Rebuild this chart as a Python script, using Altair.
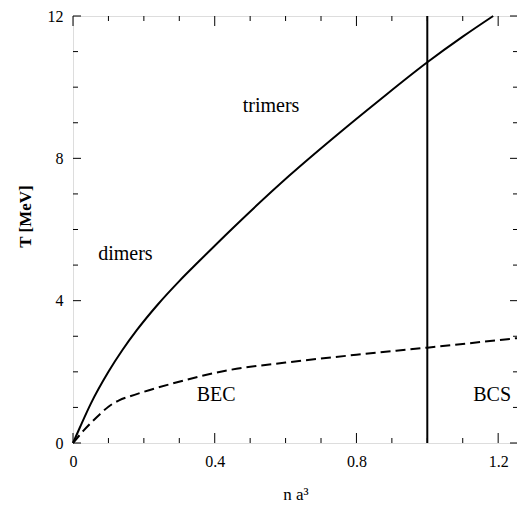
import altair as alt
import pandas as pd

# Solid curve (dimers / trimers boundary)
solid_x = [0.0, 0.02, 0.05, 0.1, 0.14, 0.18, 0.24, 0.3, 0.357, 0.45, 0.61, 0.75, 0.863, 1.0, 1.1, 1.186]
solid_y = [0.0, 0.45, 1.1, 2.0, 2.62, 3.17, 3.9, 4.55, 5.12, 6.03, 7.51, 8.7, 9.62, 10.7, 11.42, 12.0]

# Dashed curve (critical temperature)
dash_x = [0.0, 0.029, 0.076, 0.1, 0.13, 0.16, 0.2, 0.273, 0.441, 0.6, 0.8, 1.0, 1.256]
dash_y = [0.0, 0.34, 0.81, 1.02, 1.2, 1.31, 1.44, 1.65, 2.05, 2.26, 2.48, 2.68, 2.95]

# Vertical BEC/BCS boundary
boundary_x = [1.0]

# Region labels
label_text = ["trimers", "dimers", "BEC", "BCS"]
label_x = [0.559, 0.148, 0.404, 1.183]
label_y = [9.48, 5.31, 1.36, 1.36]

# Ticks
x_major = [0, 0.4, 0.8, 1.2]
x_minor = [0.1, 0.2, 0.3, 0.5, 0.6, 0.7, 0.9, 1.0, 1.1]
y_major = [0, 4, 8, 12]
y_minor = [1, 2, 3, 5, 6, 7, 9, 10, 11]

X_DOMAIN = [0, 1.256]
Y_DOMAIN = [0, 12]

FONT = "Liberation Serif"

solid_df = pd.DataFrame({"x": solid_x, "y": solid_y})
dash_df = pd.DataFrame({"x": dash_x, "y": dash_y})
bound_df = pd.DataFrame({"x": boundary_x})
label_df = pd.DataFrame({"x": label_x, "y": label_y, "t": label_text})

xs = alt.Scale(domain=X_DOMAIN, nice=False, zero=False)
ys = alt.Scale(domain=Y_DOMAIN, nice=False, zero=False)

main_x = alt.Axis(orient="bottom", values=x_major, format=".1~f", ticks=False,
                  domain=False, grid=False, labelFlush=False,
                  labelPadding=10, labelFont=FONT, labelFontSize=16, labelColor="black",
                  title="n a³", titleFont=FONT, titleFontSize=17, titleFontWeight="normal",
                  titleColor="black", titleY=56, titleBaseline="alphabetic")
main_y = alt.Axis(orient="left", values=y_major, format="d", ticks=False,
                  domain=False, grid=False, labelFlush=False,
                  labelPadding=10, labelFont=FONT, labelFontSize=16, labelColor="black",
                  title="T [MeV]", titleFont=FONT, titleFontSize=17, titleFontWeight="bold",
                  titleColor="black", titleX=-48, titleY=200, titleBaseline="middle")

solid = alt.Chart(solid_df).mark_line(color="black", strokeWidth=2, interpolate="monotone").encode(
    x=alt.X("x:Q", scale=xs, axis=main_x),
    y=alt.Y("y:Q", scale=ys, axis=main_y),
)

dashed = alt.Chart(dash_df).mark_line(color="black", strokeWidth=2, strokeDash=[10, 5],
                                      interpolate="monotone").encode(
    x=alt.X("x:Q", scale=xs),
    y=alt.Y("y:Q", scale=ys),
)

boundary = alt.Chart(bound_df).mark_rule(color="black", strokeWidth=2).encode(
    x=alt.X("x:Q", scale=xs),
)

labels = alt.Chart(label_df).mark_text(font=FONT, fontSize=20, color="black",
                                       align="center", baseline="middle").encode(
    x=alt.X("x:Q", scale=xs),
    y=alt.Y("y:Q", scale=ys),
    text="t:N",
)


def x_ticks(values, size, at, off):
    df = pd.DataFrame({"x": values})
    return alt.Chart(df).mark_tick(orient="vertical", size=size, thickness=1, color="black",
                                   opacity=1, yOffset=off).encode(
        x=alt.X("x:Q", scale=xs),
        y=alt.Y(datum=at, scale=ys),
    )


def y_ticks(values, size, at, off):
    df = pd.DataFrame({"y": values})
    return alt.Chart(df).mark_tick(orient="horizontal", size=size, thickness=1, color="black",
                                   opacity=1, xOffset=off).encode(
        y=alt.Y("y:Q", scale=ys),
        x=alt.X(datum=at, scale=xs),
    )


ticks = [
    x_ticks(x_major, 10, Y_DOMAIN[0], -5),
    x_ticks(x_minor, 5, Y_DOMAIN[0], -2.5),
    x_ticks(x_major, 10, Y_DOMAIN[1], 5),
    x_ticks(x_minor, 5, Y_DOMAIN[1], 2.5),
    y_ticks(y_major, 8, X_DOMAIN[0], 4),
    y_ticks(y_minor, 5, X_DOMAIN[0], 2.5),
    y_ticks(y_major, 8, X_DOMAIN[1], -4),
    y_ticks(y_minor, 5, X_DOMAIN[1], -2.5),
]

chart = alt.layer(solid, dashed, boundary, labels, *ticks).properties(
    width=509, height=494,
    autosize=alt.AutoSizeParams(type="fit", contains="padding"),
    padding={"left": 8, "top": 0, "right": -5, "bottom": 0}
).configure_view(stroke="black", strokeWidth=1.5).configure(background="white")

chart.save("out.html", embed_options={"renderer": "svg", "actions": False})
